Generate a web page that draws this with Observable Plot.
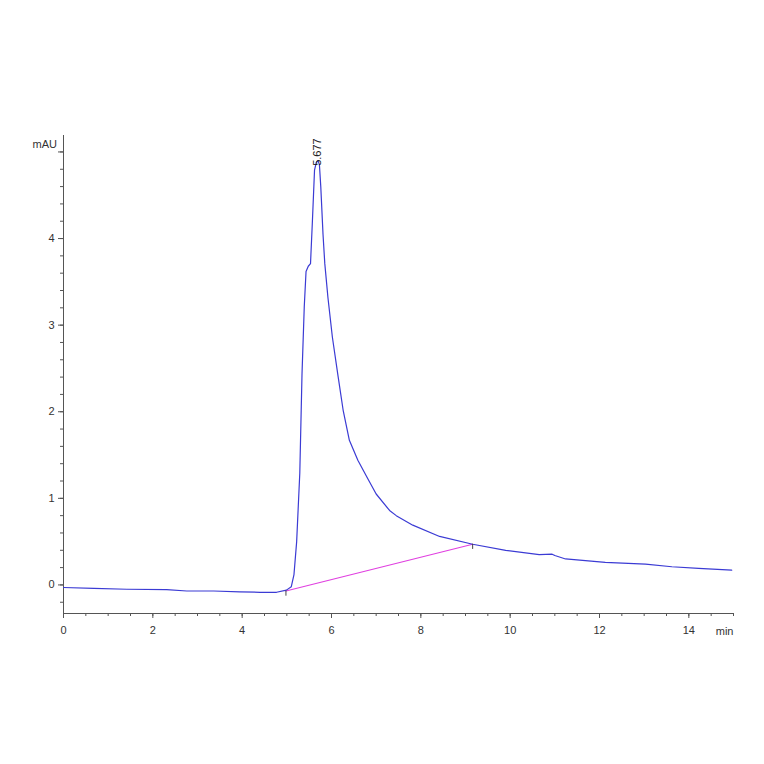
<!DOCTYPE html>
<html>
<head>
<meta charset="utf-8">
<script src="https://cdn.jsdelivr.net/npm/d3@7"></script>
<script src="https://cdn.jsdelivr.net/npm/@observablehq/plot@0.6"></script>
<style>
  html, body { margin: 0; padding: 0; background: #fff; }
  #chart { width: 764px; height: 764px; }
</style>
</head>
<body>
<div id="chart"></div>
<script>
// Retention time (min) and absorbance (mAU)
const times = [0, 0.68, 1.42, 2.31, 2.76, 3.36, 3.95, 4.4, 4.77, 4.99, 5.1, 5.16, 5.22, 5.29, 5.34, 5.39, 5.43, 5.48, 5.53, 5.57, 5.62, 5.66, 5.70, 5.73, 5.76, 5.81, 5.85, 5.92, 6.02, 6.15, 6.26, 6.40, 6.59, 6.81, 7.0, 7.30, 7.45, 7.82, 8.42, 9.16, 9.90, 10.65, 10.94, 11.0, 11.24, 12.13, 13.03, 13.62, 14.22, 14.96];
const mau = [-0.03, -0.04, -0.05, -0.055, -0.07, -0.07, -0.08, -0.085, -0.085, -0.06, -0.02, 0.12, 0.5, 1.29, 2.44, 3.21, 3.62, 3.68, 3.71, 4.17, 4.79, 4.88, 4.9, 4.85, 4.6, 4.05, 3.71, 3.32, 2.86, 2.40, 2.02, 1.67, 1.44, 1.23, 1.05, 0.86, 0.80, 0.69, 0.56, 0.47, 0.40, 0.35, 0.355, 0.34, 0.30, 0.26, 0.24, 0.21, 0.19, 0.17];

// Integration baseline (start, end)
const baseTimes = [4.98, 9.16];
const baseMau = [-0.07, 0.47];

// Peak annotation
const peakTimes = [5.677];
const peakMau = [4.84];
const peakLabels = ["5.677"];

// Axis ticks
const yMajor = [0, 1, 2, 3, 4, 5];
const yLabels = ["0", "1", "2", "3", "4", ""];
const yMinor = d3.range(-0.2, 5.01, 0.2).map(v => +v.toFixed(1));
const xMajor = [0, 2, 4, 6, 8, 10, 12, 14];
const xMinor = d3.range(0, 15.01, 0.5);
const xDomain = [0, 15];
const yDomain = [-0.33, 5.19];

const series = times.map((t, i) => ({t, v: mau[i]}));
const baseline = baseTimes.map((t, i) => ({t, v: baseMau[i]}));
const peaks = peakTimes.map((t, i) => ({t, v: peakMau[i], label: peakLabels[i]}));

const axisColor = "#555";
const textColor = "#333";

const chart = Plot.plot({
  width: 764,
  height: 764,
  marginLeft: 63,
  marginRight: 31,
  marginTop: 135,
  marginBottom: 151,
  style: {fontFamily: "Liberation Sans, Arial, sans-serif", background: "#fff"},
  x: {domain: xDomain},
  y: {domain: yDomain},
  marks: [
    // minor ticks
    Plot.axisY({ticks: yMinor, tickSize: 3, tickFormat: () => "", stroke: axisColor, label: null}),
    Plot.axisX({ticks: xMinor, tickSize: 3, tickFormat: () => "", stroke: axisColor, label: null}),
    // major ticks with labels
    Plot.axisY({ticks: yMajor, tickSize: 5, tickPadding: 4, tickFormat: d => yLabels[yMajor.indexOf(d)], fontSize: 11, fill: textColor, stroke: axisColor, label: null}),
    Plot.axisX({ticks: xMajor, tickSize: 5, tickPadding: 8, tickFormat: d => String(d), fontSize: 11, fill: textColor, stroke: axisColor, label: null}),
    // axis lines
    Plot.ruleX([xDomain[0]], {stroke: axisColor, strokeWidth: 1}),
    Plot.ruleY([yDomain[0]], {stroke: axisColor, strokeWidth: 1}),
    // baseline
    Plot.line(baseline, {x: "t", y: "v", stroke: "#e040e0", strokeWidth: 1.2}),
    // signal
    Plot.line(series, {x: "t", y: "v", stroke: "#3b3bd4", strokeWidth: 1.2}),
    // integration markers
    Plot.ruleX(baseline, {x: "t", y1: "v", y2: d => d.v - 0.06, stroke: "#444", strokeWidth: 1}),
    // peak label
    Plot.text(peaks, {x: "t", y: "v", text: "label", rotate: -90, textAnchor: "start", fontSize: 11, fill: "#222"}),
    // unit labels
    Plot.text(["mAU"], {frameAnchor: "top-left", dx: -31, dy: 5, fontSize: 11, fill: textColor, textAnchor: "start"}),
    Plot.text(["min"], {frameAnchor: "bottom-right", dx: 0, dy: 21, fontSize: 11, fill: textColor, textAnchor: "end"})
  ]
});
document.getElementById("chart").appendChild(chart);
</script>
</body>
</html>
